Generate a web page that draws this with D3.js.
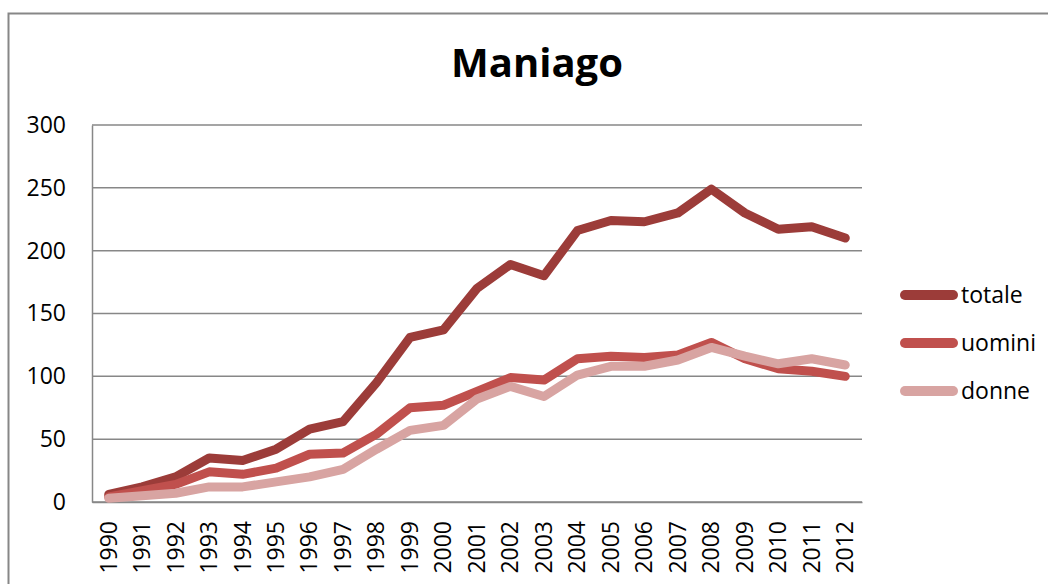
<!DOCTYPE html>
<html>
<head>
<meta charset="utf-8">
<script src="https://cdn.jsdelivr.net/npm/d3@7"></script>
<style>
  html, body { margin: 0; padding: 0; background: #fff; }
  svg { display: block; font-family: "Open Sans", sans-serif; }
</style>
</head>
<body>
<svg id="chart"></svg>
<script>
const width = 1048
const height = 584

const years = ["1990","1991","1992","1993","1994","1995","1996","1997","1998","1999","2000",
  "2001","2002","2003","2004","2005","2006","2007","2008","2009","2010","2011","2012"];
const totale = [6, 12, 20, 35, 33, 42, 58, 64, 95, 131, 137, 170, 189, 180, 216, 224, 223, 230, 249, 230, 217, 219, 210];
const uomini = [4, 9, 14, 24, 22, 27, 38, 39, 54, 75, 77, 88, 99, 97, 114, 116, 115, 117, 127, 114, 106, 104, 100];
const donne  = [3, 5, 7, 12, 12, 16, 20, 26, 42, 57, 61, 82, 92, 84, 101, 108, 108, 113, 123, 116, 110, 114, 109];
const yTicks = [0, 50, 100, 150, 200, 250, 300];

const series = [
  {name: "totale", values: totale, color: "#9c3c39"},
  {name: "uomini", values: uomini, color: "#c0504d"},
  {name: "donne", values: donne, color: "#d8a4a2"}
];

const margin = {top: 125, right: 186, bottom: 82, left: 92};

const svg = d3.select("#chart")
    .attr("width", width)
    .attr("height", height);

// outer chart frame (runs off the right and bottom edges)
svg.append("rect")
    .attr("x", 8.5)
    .attr("y", 13.5)
    .attr("width", width + 20)
    .attr("height", height + 20)
    .attr("fill", "none")
    .attr("stroke", "#878787")
    .attr("stroke-width", 2);

svg.append("text")
    .attr("x", 537)
    .attr("y", 77)
    .attr("text-anchor", "middle")
    .attr("font-size", 40)
    .attr("font-weight", "bold")
    .text("Maniago");

const x = d3.scalePoint()
    .domain(years)
    .range([margin.left, width - margin.right])
    .padding(0.5);

const y = d3.scaleLinear()
    .domain([0, 300])
    .range([height - margin.bottom, margin.top]);

// gridlines
svg.append("g")
    .attr("stroke", "#878787")
    .attr("stroke-width", 1.5)
  .selectAll("line")
  .data(yTicks)
  .join("line")
    .attr("x1", margin.left)
    .attr("x2", width - margin.right)
    .attr("y1", d => y(d))
    .attr("y2", d => y(d));

const yAxis = svg.append("g")
    .attr("transform", `translate(${margin.left},0)`)
    .call(d3.axisLeft(y).tickValues(yTicks).tickSize(0).tickPadding(26));
yAxis.select(".domain").attr("stroke", "#878787").attr("stroke-width", 1.5);
yAxis.selectAll("text")
    .attr("font-family", "Open Sans, sans-serif")
    .attr("font-size", 23)
    .attr("fill", "#000");

const xAxis = svg.append("g")
    .attr("transform", `translate(0,${height - margin.bottom})`)
    .call(d3.axisBottom(x).tickSize(0));
xAxis.select(".domain").attr("stroke", "#878787").attr("stroke-width", 1.5);
xAxis.selectAll("text")
    .attr("font-family", "Open Sans, sans-serif")
    .attr("font-size", 23)
    .attr("fill", "#000")
    .attr("transform", "rotate(-90)")
    .attr("text-anchor", "end")
    .attr("x", -19)
    .attr("y", 0)
    .attr("dy", "0.32em");

const line = d3.line()
    .x((d, i) => x(years[i]))
    .y(d => y(d));

// drawn in series order, so donne ends up on top
svg.append("g")
    .attr("fill", "none")
    .attr("stroke-width", 9)
    .attr("stroke-linejoin", "round")
    .attr("stroke-linecap", "round")
  .selectAll("path")
  .data(series)
  .join("path")
    .attr("stroke", d => d.color)
    .attr("d", d => line(d.values));

// legend
const legend = svg.append("g")
  .selectAll("g")
  .data(series)
  .join("g")
    .attr("transform", (d, i) => `translate(900,${295 + i * 48})`);

legend.append("line")
    .attr("x1", 5)
    .attr("x2", 53)
    .attr("stroke", d => d.color)
    .attr("stroke-width", 10)
    .attr("stroke-linecap", "round");

legend.append("text")
    .attr("x", 61)
    .attr("dy", "0.35em")
    .attr("font-size", 23)
    .text(d => d.name);
</script>
</body>
</html>
